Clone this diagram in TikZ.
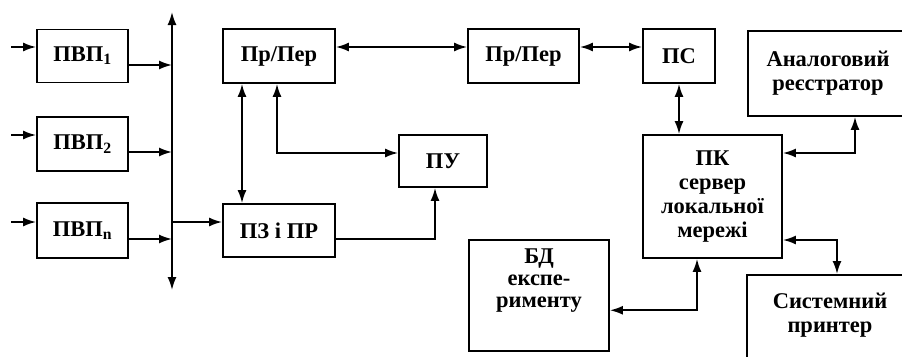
\documentclass[tikz,border=0pt]{standalone}
\usepackage{fontspec}
\setmainfont{Liberation Serif}
\usetikzlibrary{arrows.meta}

\begin{document}
\begin{tikzpicture}[x=1pt, y=-1pt,
    blok/.style={draw, line width=1.8pt, inner sep=4pt, align=center,
        font=\bfseries\fontsize{22.5}{24}\selectfont},
    link/.style={line width=1.8pt, -{Latex[length=13pt,width=9pt]}},
    dlink/.style={line width=1.8pt, {Latex[length=13pt,width=9pt]}-{Latex[length=13pt,width=9pt]}}]
    \useasboundingbox (0,0) rectangle (902,356);
    \clip (0,0) rectangle (902,356);

    % Input converters
    \node[blok, minimum width=91pt, minimum height=53pt] (pvp1) at (82.5,56) {ПВП\textsubscript{1}};
    \node[blok, minimum width=91pt, minimum height=54pt] (pvp2) at (82.5,144) {ПВП\textsubscript{2}};
    \node[blok, minimum width=91pt, minimum height=55pt] (pvpn) at (82.5,230.5) {ПВП\textsubscript{n}};

    % Middle blocks
    \node[blok, minimum width=112pt, minimum height=54pt] (prper1) at (279,56) {Пр/Пер};
    \node[blok, minimum width=112pt, minimum height=53pt] (zp) at (279,230.5) {ПЗ і ПР};
    \node[blok, minimum width=88pt, minimum height=52pt] (pu) at (443,161) {ПУ};
    \node[blok, minimum width=111pt, minimum height=54pt] (prper2) at (523.5,56) {Пр/Пер};
    \node[blok, minimum width=72pt, minimum height=54pt] (ps) at (679,56) {ПС};

    % Right blocks
    \node[blok, minimum width=160pt, minimum height=85pt] (analog) at (828,73.5) {Аналоговий\\реєстратор};
    \node[blok, minimum width=139pt, minimum height=123pt] (pk) at (712.5,196.5) {ПК\\сервер\\локальної\\мережі};
    \node[blok, anchor=north, minimum width=140pt, inner ysep=9pt, text depth=34pt,
        font=\bfseries\fontsize{22.5}{22}\selectfont] (bd) at (539,239) {БД\\експе-\\рименту};
    \node[blok, anchor=north, minimum width=166pt, inner ysep=18pt, text depth=40pt] (printer) at (830,274) {Системний\\принтер};

    % Bus
    \coordinate (bustop) at (172,12);
    \coordinate (busbot) at (172,290);
    \coordinate (b1) at (172,65);
    \coordinate (b2) at (172,152);
    \coordinate (b3) at (172,239);
    \coordinate (b4) at (172,222);
    \draw[dlink] (busbot) -- (bustop);

    % Inputs
    \coordinate (in1) at (11,47);
    \coordinate (in2) at (11,135);
    \coordinate (in3) at (11,222);
    \draw[link] (in1) -- (in1 -| pvp1.west);
    \draw[link] (in2) -- (in2 -| pvp2.west);
    \draw[link] (in3) -- (in3 -| pvpn.west);

    % Outputs to bus
    \draw[link] (pvp1.east |- b1) -- (b1);
    \draw[link] (pvp2.east |- b2) -- (b2);
    \draw[link] (pvpn.east |- b3) -- (b3);
    \draw[link] (b4) -- (b4 -| zp.west);

    % Links
    \draw[dlink] ([yshift=9pt]prper1.east) -- ([yshift=9pt]prper2.west);
    \draw[dlink] ([yshift=9pt]prper2.east) -- ([yshift=9pt]ps.west);
    \draw[dlink] (ps.south) -- (ps.south |- pk.north);
    \draw[dlink] ([xshift=-37pt]prper1.south) -- ([xshift=-37pt]zp.north);
    \draw[dlink] ([xshift=-2pt]prper1.south) |- ([yshift=8pt]pu.west);
    \draw[link] ([yshift=-8.5pt]zp.east) -| ([xshift=-8pt]pu.south);
    \draw[dlink] ([yshift=43.5pt]pk.east) -| ([xshift=27pt]analog.south);
    \draw[dlink] ([yshift=-43.5pt]pk.east) -| ([xshift=7pt]printer.north);
    \draw[dlink] ([xshift=-15.5pt]pk.south) |- ([yshift=-15pt]bd.east);
\end{tikzpicture}
\end{document}
